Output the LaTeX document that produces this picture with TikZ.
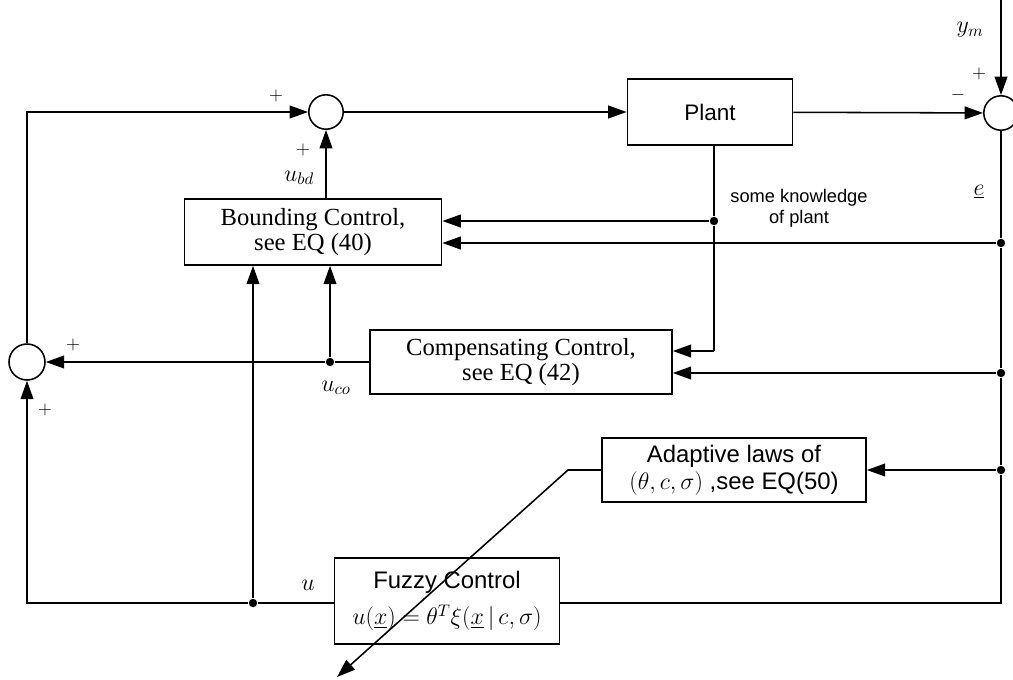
\RequirePackage{fix-cm}
\documentclass[tikz,border=0pt]{standalone}
\usepackage{fontspec}
\setmainfont{Liberation Serif}
\setsansfont{Liberation Sans}
\usepackage{tikz}
\usetikzlibrary{arrows.meta,positioning,calc}

\begin{document}
\begin{tikzpicture}[
  x=0.025cm, y=-0.025cm,
  line width=1.1pt,
  >={Triangle[length=4.6mm, width=3.2mm]},
  block/.style={draw, rectangle, align=center, inner sep=2pt, font=\fontsize{17.5}{18}\selectfont},
  sblock/.style={block, font=\sffamily\fontsize{17}{19}\selectfont},
  sumnode/.style={draw, circle, minimum size=8.6mm, inner sep=0pt},
  joint/.style={circle, fill, inner sep=0pt, minimum size=2.1mm},
  sign/.style={inner sep=0pt, font=\fontsize{13}{13}\selectfont},
  lbl/.style={inner sep=0pt, font=\fontsize{17}{17}\selectfont}
]
\useasboundingbox (0,0) rectangle (1013,679);
\node[sumnode] (sum1) at (326,112) {};
\node[sumnode] (sum3) at (1001,113) {};
\node[sumnode, minimum size=9mm] (sum2) at (27,362) {};
\node[sblock, minimum width=4.13cm, minimum height=1.65cm, font=\sffamily\fontsize{16}{18}\selectfont] (plant) at (710,112) {Plant};
\node[block, minimum width=6.43cm, minimum height=1.65cm] (bound) at (313,232) {Bounding Control,\\ see EQ (40)};
\node[block, minimum width=7.55cm, minimum height=1.6cm] (comp) at (521,362) {Compensating Control,\\ see EQ (42)};
\node[sblock, minimum width=6.6cm, minimum height=1.6cm] (adapt) at (734,470) {Adaptive laws of\\ $(\theta, c, \sigma)$ ,see EQ(50)};
\node[sblock, minimum width=5.63cm, minimum height=2.15cm, font=\sffamily\fontsize{17}{26}\selectfont] (fuzzy) at (447,601) {Fuzzy Control\\ $u(\underline{x}) = \theta^{T}\xi(\underline{x}\,|\,c,\sigma)$};
\node[joint] (know) at (714,221) {};
\node[joint] (e1) at (1001,243) {};
\node[joint] (e2) at (1001,373) {};
\node[joint] (e3) at (1001,470) {};
\node[joint] (uco) at (330,362) {};
\node[joint] (ufz) at (253,603) {};
\coordinate (ymtop) at (1001,0);
\coordinate (ecorner) at (1001,603);
\coordinate (kbend) at (714,351);
\coordinate (abend) at (568,470);
\coordinate (aend) at (337,677);
\draw[->] (sum1) -- (plant);
\draw[->] (plant) -- (sum3);
\draw[->] (ymtop) -- (sum3);
\draw (sum3) -- (e1) -- (e2) -- (e3) -- (ecorner) -- (fuzzy.east |- ecorner);
\draw[->] (e1) -- (bound.east |- e1);
\draw (plant.south -| know) -- (know) -- (kbend);
\draw[->] (know) -- (bound.east |- know);
\draw[->] (kbend) -- (comp.east |- kbend);
\draw[->] (e2) -- (comp.east |- e2);
\draw[->] (e3) -- (adapt.east |- e3);
\draw[->] (adapt.west) -- (abend) -- (aend);
\draw (comp.west |- uco) -- (uco);
\draw[->] (uco) -- (sum2);
\draw[->] (uco) -- (bound.south -| uco);
\draw (fuzzy.west |- ufz) -- (ufz);
\draw[->] (ufz) -| (sum2.south);
\draw[->] (ufz) -- (bound.south -| ufz);
\draw[->] (sum2.north) |- (sum1);
\draw[->] (bound.north -| sum1) -- (sum1);
\node[sign] (p1) at (276,96) {$+$};
\node[sign] (p2) at (303,150) {$+$};
\node[lbl] (ubd) at (299,178) {$u_{bd}$};
\node[lbl] (ym) at (970,30) {$y_{m}$};
\node[sign] (p3) at (979,74) {$+$};
\node[sign] (m3) at (958,95) {$-$};
\node[lbl] (err) at (979,192) {$\underline{e}$};
\node[font=\sffamily\fontsize{13}{15}\selectfont, align=center, inner sep=0pt] (knowtxt) at (799,208) {some knowledge\\ of plant};
\node[sign] (p4) at (73,345) {$+$};
\node[sign] (p5) at (45,410) {$+$};
\node[lbl] (ucolbl) at (336,388) {$u_{co}$};
\node[lbl] (ulbl) at (308,585) {$u$};
\end{tikzpicture}
\end{document}
